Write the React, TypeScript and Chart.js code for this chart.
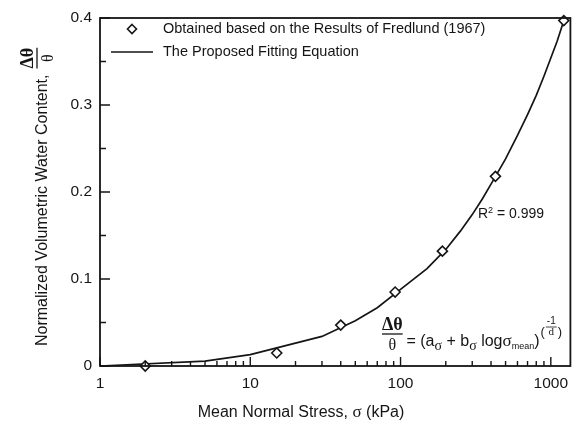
import React, { useEffect, useRef } from 'react';
import { Chart, registerables } from 'chart.js';
Chart.register(...registerables);

// Measured points (Fredlund 1967)
const measuredStress = [2, 15, 40, 92, 190, 428, 1220];
const measuredTheta = [0, 0.015, 0.047, 0.085, 0.132, 0.218, 0.397];
// Fitted curve
const fitStress = [1, 5, 10, 30, 50, 70, 100, 150, 200, 250, 300, 350, 400, 500, 600, 700, 800, 900, 1000, 1100, 1200, 1250];
const fitTheta = [0, 0.0057, 0.013, 0.034, 0.052, 0.067, 0.088, 0.112, 0.134, 0.155, 0.174, 0.192, 0.209, 0.238, 0.265, 0.289, 0.311, 0.333, 0.354, 0.373, 0.393, 0.401];
// Axis ticks
const xTickValues = [1, 10, 100, 1000];
const yTickValues = [0, 0.1, 0.2, 0.3, 0.4];
const yMinorValues = [0.05, 0.15, 0.25, 0.35];
const xMinorValues = [2, 3, 4, 5, 6, 7, 8, 9, 20, 30, 40, 50, 60, 70, 80, 90, 200, 300, 400, 500, 600, 700, 800, 900];

const legendLabels = ['Obtained based on the Results of Fredlund (1967)', 'The Proposed Fitting Equation'];
const xTitle = ['Mean Normal Stress, ', 'σ', ' (kPa)'];
const yTitle = 'Normalized Volumetric Water Content,';
const r2Label = ['R', '2', ' = 0.999'];

const SANS = "'Liberation Sans', Arial, sans-serif";
const SERIF = "'Liberation Serif', 'Times New Roman', serif";
const INK = '#151515';

type Seg = { t: string; font: string; dy?: number };
function drawSegs(ctx: CanvasRenderingContext2D, segs: Seg[], x: number, y: number) {
  let cx = x;
  for (const s of segs) {
    ctx.font = s.font;
    ctx.fillText(s.t, cx, y + (s.dy || 0));
    cx += ctx.measureText(s.t).width;
  }
  return cx;
}
function segsWidth(ctx: CanvasRenderingContext2D, segs: Seg[]) {
  let w = 0;
  for (const s of segs) {
    ctx.font = s.font;
    w += ctx.measureText(s.t).width;
  }
  return w;
}

const decor = {
  id: 'decor',
  afterDraw(chart: any) {
    const ctx: CanvasRenderingContext2D = chart.ctx;
    const { left, right, top, bottom } = chart.chartArea;
    const xs = chart.scales.x;
    const ys = chart.scales.y;
    ctx.save();
    ctx.strokeStyle = INK;
    ctx.fillStyle = INK;
    // frame
    ctx.lineWidth = 1.8;
    ctx.strokeRect(left, top, right - left, bottom - top);
    // ticks
    ctx.lineWidth = 1.4;
    ctx.beginPath();
    for (const v of yTickValues) {
      const y = ys.getPixelForValue(v);
      ctx.moveTo(left, y); ctx.lineTo(left + 10, y);
    }
    for (const v of yMinorValues) {
      const y = ys.getPixelForValue(v);
      ctx.moveTo(left, y); ctx.lineTo(left + 6, y);
    }
    for (const v of xTickValues) {
      const x = xs.getPixelForValue(v);
      ctx.moveTo(x, bottom); ctx.lineTo(x, bottom - 9);
    }
    for (const v of xMinorValues) {
      const x = xs.getPixelForValue(v);
      ctx.moveTo(x, bottom); ctx.lineTo(x, bottom - 5);
    }
    ctx.stroke();

    // legend
    ctx.textAlign = 'left';
    ctx.textBaseline = 'middle';
    ctx.font = `14.5px ${SANS}`;
    ctx.lineWidth = 1.6;
    ctx.beginPath();
    const dx = 132, dy = 29, r = 4.5;
    ctx.moveTo(dx, dy - r); ctx.lineTo(dx + r, dy); ctx.lineTo(dx, dy + r); ctx.lineTo(dx - r, dy); ctx.closePath();
    ctx.stroke();
    ctx.fillText(legendLabels[0], 163, 29);
    ctx.beginPath();
    ctx.moveTo(111, 52); ctx.lineTo(153, 52);
    ctx.stroke();
    ctx.fillText(legendLabels[1], 163, 52);

    // x title
    ctx.textBaseline = 'alphabetic';
    const xs1: Seg[] = [
      { t: xTitle[0], font: `16px ${SANS}` },
      { t: xTitle[1], font: `17px ${SERIF}` },
      { t: xTitle[2], font: `16px ${SANS}` },
    ];
    const wx = segsWidth(ctx, xs1);
    drawSegs(ctx, xs1, 301 - wx / 2, 417);

    // y title (rotated)
    ctx.save();
    ctx.translate(47, 346);
    ctx.rotate(-Math.PI / 2);
    ctx.font = `16px ${SANS}`;
    ctx.fillText(yTitle, 0, 0);
    const tw = ctx.measureText(yTitle).width;
    ctx.font = `bold 18px ${SERIF}`;
    const nw = ctx.measureText('Δθ').width;
    const u0 = tw + 6;
    ctx.fillText('Δθ', u0, -14);
    ctx.lineWidth = 1.3;
    ctx.beginPath();
    ctx.moveTo(u0, -10); ctx.lineTo(u0 + nw, -10);
    ctx.stroke();
    ctx.font = `16px ${SERIF}`;
    const dw = ctx.measureText('θ').width;
    ctx.fillText('θ', u0 + (nw - dw) / 2, 6);
    ctx.restore();

    // R^2 annotation
    drawSegs(ctx, [
      { t: r2Label[0], font: `14px ${SANS}` },
      { t: r2Label[1], font: `9px ${SANS}`, dy: -5 },
      { t: r2Label[2], font: `14px ${SANS}` },
    ], 478, 218);

    // equation
    ctx.font = `bold 18px ${SERIF}`;
    const ew = ctx.measureText('Δθ').width;
    ctx.fillText('Δθ', 382, 330);
    ctx.lineWidth = 1.3;
    ctx.beginPath();
    ctx.moveTo(382, 334); ctx.lineTo(382 + ew, 334);
    ctx.stroke();
    ctx.font = `16px ${SERIF}`;
    const tdw = ctx.measureText('θ').width;
    ctx.fillText('θ', 382 + (ew - tdw) / 2, 350);
    let cx = drawSegs(ctx, [
      { t: ' = (a', font: `16px ${SANS}` },
      { t: 'σ', font: `14px ${SERIF}`, dy: 4 },
      { t: ' + b', font: `16px ${SANS}` },
      { t: 'σ', font: `14px ${SERIF}`, dy: 4 },
      { t: ' log', font: `16px ${SANS}` },
      { t: 'σ', font: `17px ${SERIF}` },
      { t: 'mean', font: `9px ${SANS}`, dy: 3 },
      { t: ')', font: `16px ${SANS}` },
    ], 402, 346);
    // exponent (-1/d)
    ctx.font = `13px ${SANS}`;
    ctx.fillText('(', cx + 1, 336);
    const pw = ctx.measureText('(').width;
    ctx.font = `10px ${SANS}`;
    const mw = ctx.measureText('-1').width + 2;
    const fx = cx + 1 + pw + 1;
    ctx.fillText('-1', fx + 1, 324);
    ctx.lineWidth = 0.8;
    ctx.beginPath();
    ctx.moveTo(fx, 327); ctx.lineTo(fx + mw, 327);
    ctx.stroke();
    ctx.font = `11px ${SERIF}`;
    const ddw = ctx.measureText('d').width;
    ctx.fillText('d', fx + (mw - ddw) / 2, 335);
    ctx.font = `13px ${SANS}`;
    ctx.fillText(')', fx + mw + 1, 336);

    ctx.restore();
  },
};

export default function App() {
  const ref = useRef<HTMLCanvasElement>(null);
  useEffect(() => {
    const canvas = ref.current!;
    const tickFont = { family: SANS, size: 15.5 };
    const chart = new Chart(canvas, {
      type: 'scatter',
      data: {
        datasets: [
          {
            label: legendLabels[0],
            data: measuredStress.map((x, i) => ({ x, y: measuredTheta[i] })),
            showLine: false,
            pointStyle: 'rectRot',
            pointRadius: 5,
            pointBorderWidth: 1.6,
            borderColor: INK,
            backgroundColor: '#ffffff',
            clip: false as any,
          },
          {
            label: legendLabels[1],
            data: fitStress.map((x, i) => ({ x, y: fitTheta[i] })),
            showLine: true,
            pointRadius: 0,
            borderWidth: 1.7,
            borderColor: INK,
            backgroundColor: INK,
            tension: 0,
            clip: 2 as any,
          },
        ],
      },
      options: {
        animation: false,
        responsive: false,
        maintainAspectRatio: false,
        layout: { padding: { top: 18, right: 4, left: 0, bottom: 0 } },
        plugins: { legend: { display: false }, tooltip: { enabled: false } },
        scales: {
          x: {
            type: 'logarithmic',
            min: 1,
            max: 1350,
            afterFit: (s: any) => { s.height = 56; },
            afterBuildTicks: (s: any) => { s.ticks = xTickValues.map((v) => ({ value: v })); },
            ticks: {
              font: tickFont,
              color: INK,
              padding: 8,
              maxRotation: 0,
              autoSkip: false,
              callback: (v: any) => String(v),
            },
            grid: { display: false, drawTicks: false },
            border: { display: false },
          },
          y: {
            type: 'linear',
            min: 0,
            max: 0.4,
            afterFit: (s: any) => { s.width = 100; },
            afterBuildTicks: (s: any) => { s.ticks = yTickValues.map((v) => ({ value: v })); },
            ticks: {
              font: tickFont,
              color: INK,
              padding: 8,
              autoSkip: false,
              callback: (v: any) => String(Math.round(v * 10) / 10),
            },
            grid: { display: false, drawTicks: false },
            border: { display: false },
          },
        },
      },
      plugins: [decor],
    } as any);
    return () => chart.destroy();
  }, []);
  return (
    <div style={{ position: 'absolute', left: 0, top: 0, width: 577, height: 422, background: '#fff' }}>
      <canvas ref={ref} width={577} height={422} style={{ width: 577, height: 422, display: 'block' }} />
    </div>
  );
}
